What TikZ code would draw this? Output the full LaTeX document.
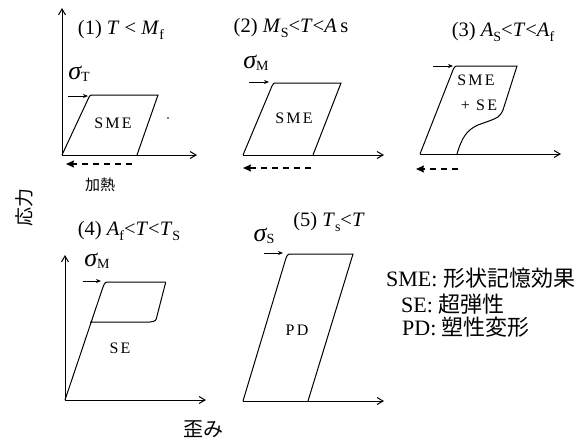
\documentclass[tikz,border=0pt]{standalone}
\usepackage{fontspec}
\setmainfont{Liberation Serif}
\newfontfamily\jp{Noto Sans CJK JP}
\newfontfamily\spaced[LetterSpace=14]{Liberation Serif}
\usetikzlibrary{arrows.meta}
\newcommand{\sbs}[1]{\raisebox{-0.28em}{\fontsize{14}{14}\selectfont #1}}
\newcommand{\sig}[1]{{\fontsize{26}{26}\selectfont\itshape σ}\raisebox{-0.2em}{\fontsize{14}{14}\selectfont #1}}
\tikzset{
  axis/.style={line width=1pt,-{Straight Barb[length=6pt,width=7pt]}},
  curve/.style={line width=1pt},
  sarrow/.style={line width=0.8pt,-{Stealth[length=5pt,width=4pt]}},
  heat/.style={line width=1.6pt,dash pattern=on 6pt off 5pt,-{Stealth[length=8pt,width=7pt,inset=1pt]}},
  ttl/.style={font=\fontsize{20.5}{20.5}\selectfont,inner sep=0pt},
  lbl/.style={font=\spaced\fontsize{16}{16}\selectfont,inner sep=0pt},
  leg/.style={font=\fontsize{22}{22}\selectfont,inner sep=0pt,anchor=west},
  jpl/.style={font=\jp\fontsize{19}{19}\selectfont,inner sep=0pt}
}
\begin{document}
\begin{tikzpicture}[x=1pt,y=-1pt]
\useasboundingbox (0,0) rectangle (586,442);
% ---------- panel 1
\coordinate (o1) at (62,155);
\coordinate (y1) at (62,8);
\coordinate (x1) at (197,155);
\draw[axis] (o1) -- (y1);
\draw[axis] (o1) -- (x1);
\draw[curve] (o1) -- (88.3,98.6) .. controls (90,95) .. (95,95) -- (158,95) -- (137,155);
\coordinate (a1s) at (68,96); \coordinate (a1e) at (88,96);
\draw[sarrow] (a1s) -- (a1e);
\node[ttl] (t1) at (121,30) {(1) \textit{T} < \textit{M}\sbs{f}};
\node[inner sep=0pt] (s1) at (79,74) {\sig{T}};
\node[lbl] (l1) at (113,123) {SME};
\fill (168,118) circle (0.8pt);
\coordinate (h1s) at (132,164); \coordinate (h1e) at (66,164);
\draw[heat] (h1s) -- (h1e);
\node[jpl,font=\jp\fontsize{15}{15}\selectfont] (k1) at (100,185) {加熱};
% ---------- panel 2
\coordinate (o2) at (243,155);
\coordinate (x2) at (384,155);
\draw[axis] (o2) -- (x2);
\draw[curve] (o2) -- (272,86) .. controls (273.5,83) .. (277,83) -- (341,83) -- (313,155);
\coordinate (a2s) at (249,82); \coordinate (a2e) at (269,82);
\draw[sarrow] (a2s) -- (a2e);
\node[ttl] (t2) at (291,28) {(2) \textit{M}\sbs{S}<\textit{T}<\textit{A}\,s};
\node[inner sep=0pt] (s2) at (256,63) {\sig{M}};
\node[lbl] (l2) at (294,118) {SME};
\coordinate (h2s) at (311,168); \coordinate (h2e) at (243,168);
\draw[heat] (h2s) -- (h2e);
% ---------- panel 3
\coordinate (o3) at (420,154);
\coordinate (x3) at (561,154);
\draw[axis] (o3) -- (x3);
\draw[curve] (o3) -- (453,70) .. controls (455,66) .. (459,66) -- (517,66) -- (503,110)
  .. controls (500,117) and (497,118) .. (489,121) -- (478,125)
  .. controls (467,130) and (462,137) .. (457,154);
\coordinate (a3s) at (433,66); \coordinate (a3e) at (453,66);
\draw[sarrow] (a3s) -- (a3e);
\node[ttl] (t3) at (503,32) {(3) \textit{A}\sbs{S}<\textit{T}<\textit{A}\sbs{f}};
\node[lbl] (l3a) at (476,80) {SME};
\node[lbl] (l3b) at (479,105) {+ SE};
\coordinate (h3s) at (458,169); \coordinate (h3e) at (416,169);
\draw[heat] (h3s) -- (h3e);
% ---------- panel 4
\coordinate (o4) at (65,400);
\coordinate (y4) at (65,255);
\coordinate (x4) at (206,400);
\draw[axis] (o4) -- (y4);
\draw[axis] (o4) -- (x4);
\draw[curve] (o4) -- (103,287) .. controls (105,282) .. (110,282) -- (163,282)
  .. controls (166,282) .. (165,285) -- (157,316) .. controls (156,321) .. (150,322) -- (90,322);
\coordinate (a4s) at (83,281); \coordinate (a4e) at (101,281);
\draw[sarrow] (a4s) -- (a4e);
\node[ttl] (t4) at (129,231) {(4) \textit{A}\sbs{f}<\textit{T}<\textit{T}\sbs{S}};
\node[inner sep=0pt] (s4) at (97,261) {\sig{M}};
\node[lbl] (l4) at (120,348) {SE};
% ---------- panel 5
\coordinate (o5) at (243,401);
\coordinate (x5) at (384,401);
\draw[axis] (o5) -- (x5);
\draw[curve] (o5) -- (286,258) .. controls (288,254) .. (292,254) -- (353,254) -- (308,401);
\coordinate (a5s) at (264,253); \coordinate (a5e) at (283,253);
\draw[sarrow] (a5s) -- (a5e);
\node[ttl] (t5) at (329,222) {(5) \textit{T}\sbs{s}<\textit{T}};
\node[inner sep=0pt] (s5) at (264,236) {\sig{S}};
\node[lbl] (l5) at (297,330) {PD};
% ---------- axis titles
\node[jpl,rotate=90] (yl) at (24,207) {応力};
\node[jpl,font=\jp\fontsize{20}{20}\selectfont] (xl) at (203,429) {歪み};
% ---------- legend
\node[leg] (g1) at (386,278) {SME: {\jp 形状記憶効果}};
\node[leg] (g2) at (401,304) {SE: {\jp 超弾性}};
\node[leg] (g3) at (402,327) {PD: {\jp 塑性変形}};
\end{tikzpicture}
\end{document}
